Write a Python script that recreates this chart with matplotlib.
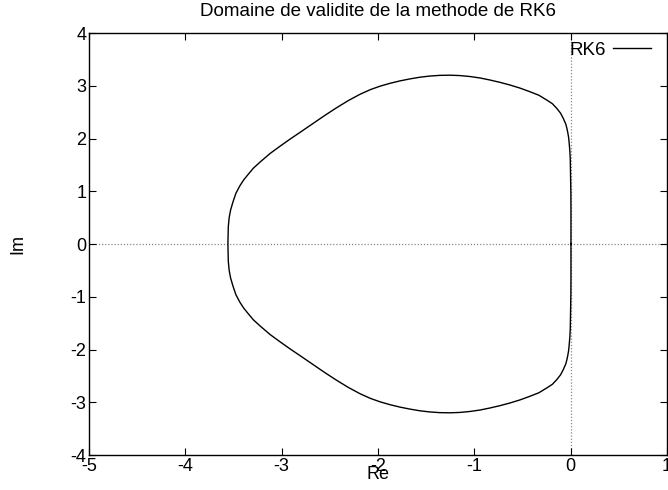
import matplotlib
matplotlib.use("Agg")
import matplotlib.pyplot as plt

plt.rcParams['font.family'] = ['Liberation Sans', 'DejaVu Sans']

title = "Domaine de validite de la methode de RK6"
xlabel = "Re"
ylabel = "Im"
series_name = "RK6"

# Boundary of the stability region (closed loop)
re_vals = [0.003, 0.003, 0.002, -0.004, -0.008, -0.015, -0.022, -0.035, -0.050, -0.077,
           -0.105, -0.145, -0.190, -0.249, -0.330, -0.423, -0.525, -0.630, -0.735, -0.838,
           -0.940, -1.046, -1.150, -1.253, -1.357, -1.461, -1.565, -1.668, -1.772, -1.876,
           -1.980, -2.080, -2.187, -2.310, -2.429, -2.550, -2.672, -2.790, -2.911, -3.020,
           -3.118, -3.220, -3.295, -3.352, -3.395, -3.435, -3.475, -3.505, -3.530, -3.545,
           -3.554, -3.558,
           -3.554, -3.545, -3.530, -3.505, -3.475, -3.435, -3.395, -3.352, -3.295, -3.220,
           -3.118, -3.020, -2.911, -2.790, -2.672, -2.550, -2.429, -2.310, -2.187, -2.080,
           -1.980, -1.876, -1.772, -1.668, -1.565, -1.461, -1.357, -1.253, -1.150, -1.046,
           -0.940, -0.838, -0.735, -0.630, -0.525, -0.423, -0.330, -0.249, -0.190, -0.145,
           -0.105, -0.077, -0.050, -0.035, -0.022, -0.015, -0.008, -0.004, 0.002, 0.003,
           0.003]
im_vals = [0.000, 0.630, 0.960, 1.592, 1.750, 1.909, 2.030, 2.161, 2.270, 2.383,
           2.480, 2.573, 2.660, 2.730, 2.820, 2.887, 2.955, 3.014, 3.065, 3.109,
           3.147, 3.175, 3.193, 3.200, 3.197, 3.184, 3.162, 3.130, 3.092, 3.046,
           2.991, 2.926, 2.838, 2.717, 2.584, 2.440, 2.288, 2.140, 1.991, 1.850,
           1.719, 1.560, 1.435, 1.310, 1.213, 1.100, 0.961, 0.800, 0.645, 0.500,
           0.328, 0.000,
           -0.328, -0.500, -0.645, -0.800, -0.961, -1.100, -1.213, -1.310, -1.435, -1.560,
           -1.719, -1.850, -1.991, -2.140, -2.288, -2.440, -2.584, -2.717, -2.838, -2.926,
           -2.991, -3.046, -3.092, -3.130, -3.162, -3.184, -3.197, -3.200, -3.193, -3.175,
           -3.147, -3.109, -3.065, -3.014, -2.955, -2.887, -2.820, -2.730, -2.660, -2.573,
           -2.480, -2.383, -2.270, -2.161, -2.030, -1.909, -1.750, -1.592, -0.960, -0.630,
           0.000]

x_ticks = [-5, -4, -3, -2, -1, 0, 1]
y_ticks = [-4, -3, -2, -1, 0, 1, 2, 3, 4]

fig = plt.figure(figsize=(6.68, 4.90), dpi=100)
ax = fig.add_axes([89/668, 1 - 455/490, (667 - 89)/668, (455 - 33)/490])

ax.axhline(0, color='#888888', lw=0.9, ls=(0, (1, 1.5)), zorder=1)
ax.axvline(0, color='#888888', lw=0.9, ls=(0, (1, 1.5)), zorder=1)

line, = ax.plot(re_vals, im_vals, color='black', lw=1.0, zorder=2)

ax.set_xlim(-5, 1)
ax.set_ylim(-4, 4)
ax.set_xticks(x_ticks)
ax.set_yticks(y_ticks)
ax.set_xticklabels([str(v) for v in x_ticks])
ax.set_yticklabels([str(v) for v in y_ticks])
ax.tick_params(direction='in', length=5, width=0.8, top=True, right=True,
               labelsize=13, pad=2, colors='black')
for s in ax.spines.values():
    s.set_linewidth(1.0)

ax.set_title(title, fontsize=13.5, pad=12)
ax.set_xlabel(xlabel, fontsize=13, labelpad=-6)
ax.set_ylabel(ylabel, fontsize=13, labelpad=32)

leg = ax.legend([line], [series_name], loc='upper right', frameon=False,
                fontsize=13.5, markerfirst=False, handlelength=2.0,
                bbox_to_anchor=(0.972, 0.98), borderaxespad=0.0,
                handletextpad=0.4, borderpad=0.0)

fig.savefig("out.png", dpi=100)
